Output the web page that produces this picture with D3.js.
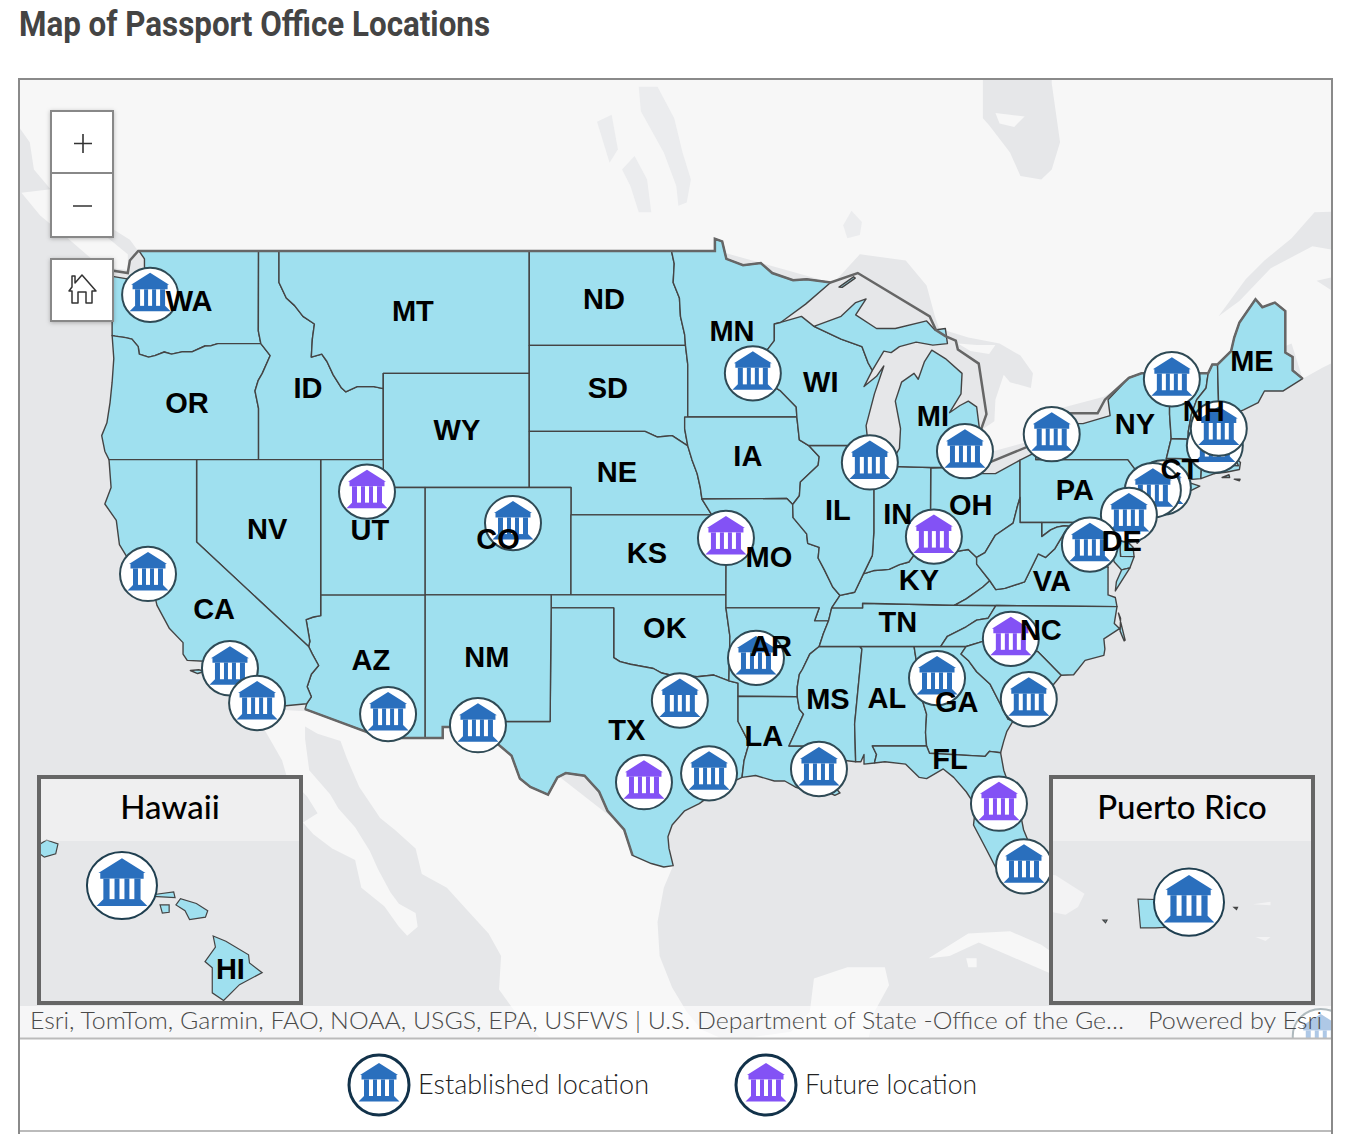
<!DOCTYPE html>
<html>
<head>
<meta charset="utf-8">
<script src="https://cdn.jsdelivr.net/npm/d3@7"></script>
<style>
html, body { margin: 0; padding: 0; background: #fff; }
svg { display: block; }
</style>
</head>
<body>
<svg id="vis" width="1354" height="1134"></svg>
<script>
// state outlines, lon/lat
var columbia = [[-116.92,46],[-118.98,46],[-119.3,45.93],[-119.6,45.92],[-120.2,45.73],[-120.65,45.73],[-121.2,45.65],[-121.55,45.72],[-122,45.6],[-122.3,45.55],[-122.75,45.65],[-122.8,45.9],[-123.1,46.15],[-123.4,46.2],[-123.9,46.25],[-124.05,46.27]];
var snake = [[-117.03,42],[-117.03,43.8],[-117.2,44.4],[-117.05,44.75],[-116.85,45],[-116.47,45.6],[-116.92,46]];
var idMt = [[-116.05,49],[-116.05,48],[-115.7,47.5],[-115.3,47.25],[-114.9,46.9],[-114.35,46.65],[-114.45,46.15],[-114.5,45.55],[-114,45.65],[-113.75,45.4],[-113.45,44.95],[-113.05,44.5],[-112.85,44.37],[-112.3,44.55],[-111.5,44.55],[-111.05,44.48]];
var colorado = [[-114.05,36.2],[-114.4,36.15],[-114.75,36.05],[-114.57,35.2],[-114.63,35],[-114.45,34.7],[-114.15,34.25],[-114.5,33.9],[-114.7,33.4],[-114.5,33],[-114.72,32.72]];
var redRiver = [[-100,34.56],[-99.7,34.4],[-99.2,34.3],[-98.1,34.13],[-97.7,33.95],[-97.2,33.85],[-96.7,33.85],[-96,33.8],[-95.2,33.87],[-94.48,33.64]];
var ohioEast = [[-80.52,40.64],[-80.65,40.3],[-80.85,39.7],[-81.7,39.25],[-82.2,38.6],[-82.6,38.42]];
var ohioMid = [[-82.6,38.42],[-83,38.72],[-83.7,38.63],[-84.3,38.95],[-84.82,39.1]];
var ohioWest = [[-84.82,39.1],[-85.4,38.72],[-85.85,38.25],[-86.3,38.15],[-86.8,37.97],[-87.5,37.93],[-88.03,37.8]];
var missUpper = [[-91.42,40.38],[-91.4,39.9],[-90.75,39.3],[-90.7,38.95],[-90.15,38.8],[-90.2,38.4],[-89.9,37.95],[-89.5,37.3],[-89.15,36.98]];
var missLower = [[-89.7,36],[-89.95,35.5],[-90.15,35],[-90.6,34.7],[-90.95,34.1],[-91.1,33.9],[-91.2,33.4],[-91.2,33]];
var moRiver = [[-96.45,42.49],[-96.25,42],[-96,41.5],[-95.85,41],[-95.77,40.58],[-95.3,40]];
var gaSc = [[-83.1,35],[-83.35,34.7],[-83,34.45],[-82.6,34],[-81.95,33.5],[-81.4,32.6],[-81.1,32.1],[-80.85,32.03]];
var tnSouthEast = [[-81.68,36.59],[-82.05,36.1],[-82.6,36.03],[-83.1,35.77],[-84,35.4],[-84.32,35]];
var wvVa = [[-77.8,39.15],[-78.35,39.4],[-78.85,38.75],[-79.3,38.42],[-79.65,38.55],[-80.3,37.5],[-81.25,37.25],[-81.68,37.2],[-81.97,37.54]];
var potomac = [[-76.3,38.05],[-76.9,38.28],[-77.05,38.7],[-77.5,39.1],[-77.8,39.15]];

function rev(a) { return a.slice().reverse(); }

var shapeWA = [[[-122.76,49],[-117.03,49],[-117.04,46.42]].concat(columbia, [[-124.05,46.7],[-124.1,46.95],[-124.2,47.2],[-124.4,47.6],[-124.65,47.95],[-124.73,48.38],[-124.1,48.2],[-123.4,48.12],[-122.8,48.14],[-122.6,47.9],[-122.5,47.35],[-122.3,47.4],[-122.35,47.8],[-122.25,48.05],[-122.5,48.5],[-122.5,48.75]])];
var shapeOR = [columbia.concat([[-123.97,45.5],[-124.05,44.7],[-124.15,44],[-124.3,43.3],[-124.55,42.85],[-124.4,42.3],[-124.2,42]], snake)];
var shapeID = [[[-117.03,49]].concat(idMt, [[-111.05,42]], snake, [[-117.04,46.42]])];
var shapeMT = [[[-116.05,49],[-104.05,49],[-104.05,45],[-111.05,45]].concat(rev(idMt))];
var shapeWY = [[[-111.05,45],[-104.05,45],[-104.05,41],[-111.05,41]]];
var shapeND = [[[-104.05,49],[-97.23,49],[-97.1,48.6],[-97.15,48],[-96.85,47.5],[-96.8,46.9],[-96.6,46.3],[-96.56,45.94],[-104.05,45.94]]];
var shapeSD = [[[-104.05,45.94],[-96.56,45.94],[-96.45,45.3],[-96.45,43.5],[-96.6,43.1],[-96.45,42.49],[-97.2,42.85],[-97.9,42.8],[-98.5,43],[-104.05,43]]];
var shapeNE = [[[-104.05,43],[-98.5,43],[-97.9,42.8],[-97.2,42.85]].concat(moRiver, [[-102.05,40],[-102.05,41],[-104.05,41]])];
var shapeCO = [[[-109.05,41],[-102.05,41],[-102.05,37],[-109.05,37]]];
var shapeKS = [[[-102.05,40],[-95.3,40],[-94.9,39.8],[-95.1,39.55],[-94.61,39.1],[-94.62,37],[-102.05,37]]];
var shapeOK = [[[-103,37],[-94.62,37],[-94.62,36.5],[-94.43,35.4]].concat(rev(redRiver), [[-100,36.5],[-103,36.5]])];
var shapeTX = [[[-103,36.5],[-100,36.5]].concat(redRiver, [[-94.04,33.55],[-94.04,33.02],[-94.04,32],[-93.55,31.2],[-93.55,31],[-93.75,30.4],[-93.85,29.7],[-94.7,29.35],[-95.1,29.1],[-95.9,28.6],[-96.6,28.3],[-97.2,27.7],[-97.4,27.2],[-97.35,26.7],[-97.15,25.96],[-97.6,25.9],[-98.2,26.05],[-99.1,26.4],[-99.5,27.5],[-100.3,28.3],[-100.7,29.1],[-101.4,29.77],[-102.3,29.88],[-102.7,29.7],[-103.15,28.98],[-104,29.3],[-104.5,29.65],[-104.9,30.6],[-106,31.4],[-106.53,31.78],[-106.62,32],[-103.05,32]])];
var shapeNM = [[[-109.05,37],[-103,37],[-103,36.5],[-103.05,32],[-106.62,32],[-106.53,31.78],[-108.2,31.78],[-108.2,31.33],[-109.05,31.33]]];
var shapeAZ = [[[-114.05,37],[-109.05,37],[-109.05,31.33],[-111.07,31.33],[-114.8,32.5]].concat(rev(colorado))];
var shapeUT = [[[-114.05,42],[-111.05,42],[-111.05,41],[-109.05,41],[-109.05,37],[-114.05,37]]];
var shapeNV = [[[-120,42],[-114.05,42]].concat(colorado.slice(0,5), [[-120,39]])];
var shapeCA = [[[-124.2,42],[-120,42],[-120,39]].concat(colorado.slice(4), [[-117.12,32.53],[-117.25,32.85],[-117.5,33.35],[-118.1,33.75],[-118.4,33.75],[-118.5,34.03],[-119.2,34.15],[-119.6,34.42],[-120.45,34.45],[-120.65,34.7],[-120.65,35.15],[-121.3,35.7],[-121.9,36.6],[-122,36.95],[-122.45,37.5],[-122.5,37.8],[-123,38],[-123.7,38.9],[-123.85,39.8],[-124.4,40.4],[-124.1,41]]),
  [[-120.3,34.05],[-119.9,34.08],[-119.6,34.02],[-119.95,33.93]]];
var shapeMN = [[[-97.23,49],[-95.15,49],[-95.15,49.38],[-94.8,49.3],[-94.6,48.75],[-93.8,48.55],[-92.95,48.62],[-92.4,48.3],[-91.4,48.07],[-90.75,48.1],[-89.6,48],[-90.8,47.3],[-92,46.7],[-92.3,46.65],[-92.3,46.1],[-92.85,45.6],[-92.75,45.1],[-92.8,44.75],[-92,44.4],[-91.25,43.85],[-91.22,43.5],[-96.45,43.5],[-96.45,45.3],[-96.56,45.94],[-96.6,46.3],[-96.8,46.9],[-96.85,47.5],[-97.15,48],[-97.1,48.6]]];
var shapeIA = [[[-96.6,43.5],[-91.22,43.5],[-91.1,42.7],[-90.65,42.5],[-90.15,42.1],[-90.2,41.8],[-91.05,41.2],[-91.1,40.7],[-91.42,40.38],[-91.7,40.6],[-95.77,40.58],[-95.85,41],[-96,41.5],[-96.25,42],[-96.45,42.49],[-96.6,43.1]]];
var shapeMO = [[[-95.77,40.58],[-91.7,40.6]].concat(missUpper, [[-89.55,36.5],[-89.7,36],[-90.37,36],[-90.15,36.5],[-94.62,36.5],[-94.62,37],[-94.61,39.1],[-95.1,39.55],[-94.9,39.8],[-95.3,40]])];
var shapeAR = [[[-94.62,36.5],[-90.15,36.5],[-90.37,36]].concat(missLower, [[-94.04,33.02],[-94.04,33.55],[-94.48,33.64],[-94.43,35.4]])];
var shapeLA = [[[-94.04,33.02],[-91.2,33],[-91.1,32.5],[-90.9,32.3],[-91.6,31],[-89.75,31],[-89.8,30.65],[-89.6,30.2],[-89.4,30.05],[-89.4,29.8],[-89.6,29.5],[-89.15,29.05],[-89.4,28.95],[-90,29.2],[-90.6,29.1],[-91.3,29.3],[-91.8,29.55],[-92.3,29.55],[-93.2,29.78],[-93.85,29.7],[-93.75,30.4],[-93.55,31],[-93.55,31.2],[-94.04,32]]];
var shapeMS = [[[-90.15,35],[-88.2,35],[-88.1,34.9],[-88.45,31.9],[-88.4,30.35],[-88.9,30.4],[-89.6,30.2],[-89.8,30.65],[-89.75,31],[-91.6,31],[-90.9,32.3],[-91.1,32.5]].concat(rev(missLower.slice(3)))];
var shapeAL = [[[-88.2,35],[-85.6,35],[-85.2,32.85],[-85,32.3],[-85.05,31.55],[-85,31],[-87.6,31],[-87.4,30.65],[-87.5,30.3],[-88,30.25],[-88,30.65],[-88.15,30.35],[-88.4,30.35],[-88.45,31.9],[-88.1,34.9]]];
var shapeGA = [[[-85.6,35]].concat(gaSc, [[-81.15,31.6],[-81.3,31.2],[-81.45,30.72],[-81.98,30.78],[-82.2,30.57],[-84.86,30.7],[-85,31],[-85.05,31.55],[-85,32.3],[-85.2,32.85]])];
var shapeFL = [[[-87.6,31],[-85,31],[-84.86,30.7],[-82.2,30.57],[-81.98,30.78],[-81.45,30.72],[-81.3,30],[-80.9,29],[-80.55,28.4],[-80.35,27.5],[-80.03,26.8],[-80.1,25.8],[-80.4,25.2],[-81.1,25.15],[-81.7,25.9],[-82.1,26.6],[-82.75,27.7],[-82.65,28.5],[-83.1,29.1],[-83.7,29.7],[-84.2,30.05],[-85,29.65],[-85.35,29.7],[-86,30.25],[-87,30.35],[-87.5,30.3],[-87.4,30.65]]];
var shapeTN = [[[-90.15,35],[-89.95,35.5],[-89.7,36],[-89.55,36.5],[-88.07,36.5],[-88.07,36.68],[-83.67,36.6]].concat(tnSouthEast, [[-85.6,35],[-88.2,35]])];
var shapeKY = [[[-89.55,36.5],[-88.07,36.5],[-88.07,36.68],[-83.67,36.6],[-83.1,36.85],[-82.3,37.3],[-81.97,37.54],[-82.6,38.17]].concat(ohioMid, ohioWest, [[-88.45,37.1],[-89.15,36.98]])];
var shapeOH = [[[-84.8,41.7],[-83.45,41.73],[-82.7,41.5],[-81.7,41.5],[-80.52,41.98]].concat(ohioEast, ohioMid)];
var shapeIN = [[[-87.53,41.72],[-86.8,41.76],[-84.8,41.72]].concat(ohioWest, [[-87.6,38.5],[-87.53,39.35]])];
var shapeIL = [[[-90.65,42.5],[-87.8,42.5],[-87.55,41.9],[-87.53,41.72],[-87.53,39.35],[-87.6,38.5],[-88.03,37.8],[-88.45,37.1]].concat(rev(missUpper), [[-91.1,40.7],[-91.05,41.2],[-90.2,41.8],[-90.15,42.1]])];
var shapeWI = [[[-92.3,46.65],[-92,46.7],[-91,46.9],[-90.4,46.57],[-89.1,46.15],[-88.1,45.9],[-87.8,45.35],[-87.6,45.1],[-88,44.55],[-87.4,44.9],[-87.05,45.25],[-87.5,44.3],[-87.9,43.2],[-87.8,42.5],[-90.65,42.5],[-91.1,42.7],[-91.22,43.5],[-91.25,43.85],[-92,44.4],[-92.8,44.75],[-92.75,45.1],[-92.85,45.6],[-92.3,46.1]]];
var shapeMI = [[[-86.8,41.76],[-84.8,41.72],[-83.45,41.73],[-83.15,42.05],[-83.1,42.3],[-82.5,42.6],[-82.45,43],[-82.6,43.85],[-83,44.05],[-83.4,43.9],[-83.9,43.65],[-83.35,44.3],[-83.3,45],[-84.1,45.5],[-84.75,45.78],[-85.1,45.4],[-85.4,44.8],[-85.6,45],[-86.2,44.7],[-86.5,44.05],[-86.25,43.1],[-86.3,42.4]],
  [[-90.4,46.57],[-89.1,46.9],[-88.4,47.35],[-87.9,47.47],[-88.4,46.95],[-87.4,46.5],[-86.5,46.5],[-85,46.75],[-84.6,46.45],[-84.1,46.5],[-84,46],[-84.7,45.95],[-85.5,46.05],[-86.3,45.9],[-86.7,45.7],[-87.05,45.75],[-87.6,45.1],[-87.8,45.35],[-88.1,45.9],[-89.1,46.15]],
  [[-89.2,47.85],[-88.5,48.18],[-88.42,48.14],[-89.05,47.84]]];
var shapePA = [[[-80.52,41.98],[-79.76,42.27],[-79.76,42],[-75.35,42],[-75.1,41.75],[-74.7,41.36],[-75.1,41],[-75.15,40.65],[-74.75,40.2],[-75.4,39.8],[-75.8,39.72],[-80.52,39.72]]];
var shapeNY = [[[-79.76,42.27],[-79.05,42.7],[-78.9,42.9],[-79.05,43.27],[-77.5,43.27],[-76.2,43.55],[-76.3,44.1],[-75.3,44.85],[-74.7,45],[-73.35,45],[-73.35,43.6],[-73.27,42.75],[-73.5,42.05],[-73.5,41.3],[-73.65,41],[-73.9,40.8],[-74,40.7],[-74.05,41],[-74.7,41.36],[-75.1,41.75],[-75.35,42],[-79.76,42]],
  [[-74,40.6],[-73.75,40.85],[-72.7,40.98],[-72.3,41.15],[-71.9,41.05],[-72.5,40.82],[-73.5,40.6]]];
var shapeNJ = [[[-74.7,41.36],[-74.05,41],[-74,40.7],[-74.25,40.48],[-74,40.45],[-74.1,39.75],[-74.4,39.4],[-74.9,38.95],[-75.15,39.2],[-75.5,39.5],[-75.4,39.8],[-74.75,40.2],[-75.15,40.65],[-75.1,41]]];
var shapeDE = [[[-75.8,39.72],[-75.4,39.8],[-75.6,39.45],[-75.35,39],[-75.1,38.8],[-75.05,38.45],[-75.7,38.46]]];
var shapeMD = [[[-79.48,39.72],[-75.8,39.72],[-75.7,38.46],[-75.05,38.45],[-75.25,38.03],[-75.65,37.95],[-76,38.25],[-76.3,38.9],[-76.05,39.4],[-76.45,39.2],[-76.45,38.4]].concat(potomac, [[-77.72,39.32],[-77.8,39.55],[-78.4,39.6],[-78.75,39.55],[-79.05,39.45],[-79.48,39.2]])];
var shapeVA = [[[-83.67,36.6],[-81.68,36.59],[-75.87,36.55],[-75.95,36.9],[-76.3,37],[-76.3,37.6]].concat(potomac, wvVa, [[-82.3,37.3],[-83.1,36.85]]),
  [[-75.65,37.95],[-75.25,38.03],[-75.95,37.15],[-75.9,37.5]]];
var shapeWV = [[[-80.52,40.64],[-80.52,39.72],[-79.48,39.72],[-79.48,39.2],[-79.05,39.45],[-78.75,39.55],[-78.4,39.6],[-77.8,39.55],[-77.72,39.32]].concat(wvVa, [[-82.6,38.17]], rev(ohioEast))];
var shapeNC = [[[-84.32,35]].concat(rev(tnSouthEast).slice(1), [[-75.87,36.55],[-76,35.9],[-75.75,35.7],[-76.5,35.3],[-76.45,34.9],[-76.5,34.65],[-77.4,34.45],[-77.95,33.88],[-78.55,33.86],[-79.67,34.8],[-80.8,34.82],[-80.93,35.1],[-81.05,35.15],[-82.3,35.2],[-83.1,35]]),
  [[-75.8,36.3],[-75.48,35.25],[-75.53,35.22],[-75.72,35.6],[-75.7,36.1]]];
var shapeSC = [[[-83.1,35],[-82.3,35.2],[-81.05,35.15],[-80.93,35.1],[-80.8,34.82],[-79.67,34.8],[-78.55,33.86],[-79.2,33.2],[-79.9,32.7]].concat(rev(gaSc))];
var shapeCT = [[[-73.5,42.05],[-71.8,42.02],[-71.85,41.32],[-72.9,41.25],[-73.65,41],[-73.5,41.3]]];
var shapeRI = [[[-71.8,42.02],[-71.38,42.02],[-71.2,41.5],[-71.85,41.32]]];
var shapeMA = [[[-73.27,42.75],[-72.46,42.73],[-71.3,42.7],[-70.85,42.87],[-70.6,42.65],[-71,42.3],[-70.6,41.95],[-70.55,41.8],[-70.05,41.78],[-70.2,42.08],[-69.95,41.9],[-70,41.65],[-70.65,41.55],[-71.2,41.5],[-71.38,42.02],[-71.8,42.02],[-73.5,42.05]],
  [[-70.83,41.36],[-70.5,41.46],[-70.47,41.36]],[[-70.25,41.3],[-69.97,41.3],[-70,41.24]]];
var shapeVT = [[[-73.35,45],[-71.5,45],[-71.6,44.5],[-72.05,44.1],[-72.3,43.6],[-72.45,43],[-72.46,42.73],[-73.27,42.75],[-73.35,43.6]]];
var shapeNH = [[[-71.5,45],[-71.3,45.3],[-71.05,45.3],[-70.98,43.4],[-70.7,43.07],[-70.85,42.87],[-71.3,42.7],[-72.46,42.73],[-72.45,43],[-72.3,43.6],[-72.05,44.1],[-71.6,44.5]]];
var shapeME = [[[-71.05,45.3],[-70.4,45.75],[-70.25,46.2],[-70,46.7],[-69.23,47.46],[-68.9,47.2],[-68.3,47.35],[-67.8,47.07],[-67.8,45.7],[-67.45,45.55],[-67.45,45.1],[-66.97,44.82],[-67.9,44.4],[-68.8,44.4],[-69.1,44],[-69.8,43.75],[-70.3,43.6],[-70.7,43.07],[-70.98,43.4]]];

var stateShapes = [shapeWA,shapeOR,shapeID,shapeMT,shapeWY,shapeND,shapeSD,shapeNE,shapeCO,shapeKS,shapeOK,shapeTX,shapeNM,shapeAZ,shapeUT,shapeNV,shapeCA,shapeMN,shapeIA,shapeMO,shapeAR,shapeLA,shapeMS,shapeAL,shapeGA,shapeFL,shapeTN,shapeKY,shapeOH,shapeIN,shapeIL,shapeWI,shapeMI,shapePA,shapeNY,shapeNJ,shapeDE,shapeMD,shapeVA,shapeWV,shapeNC,shapeSC,shapeCT,shapeRI,shapeMA,shapeVT,shapeNH,shapeME];

// international boundary, the thick grey line
var borderNorth = [[-125.2,48.5],[-123.3,48.3],[-123.2,48.7],[-122.8,49],[-95.15,49],[-95.15,49.38],[-94.8,49.3],[-94.6,48.75],[-93.8,48.55],[-92.95,48.62],[-92.4,48.3],[-91.4,48.07],[-90.75,48.1],[-89.6,48],[-88.3,48.3],[-84.85,46.9],[-84.55,46.45],[-84.1,46.25],[-83.6,46.1],[-83.5,45.8],[-82.5,45.33],[-82.13,43.6],[-82.42,43],[-82.5,42.6],[-83.1,42.25],[-83.1,42],[-82.7,41.68],[-78.93,42.83],[-79.05,43.27],[-79.2,43.45],[-78.7,43.63],[-76.8,43.63],[-76.45,44.1],[-75.3,44.85],[-74.7,45],[-71.5,45],[-71.3,45.3],[-71.05,45.3],[-70.4,45.75],[-70.25,46.2],[-70,46.7],[-69.23,47.46],[-68.9,47.2],[-68.3,47.35],[-67.8,47.07],[-67.8,45.7],[-67.45,45.55],[-67.45,45.1],[-66.97,44.82]];
var borderSouth = [[-114.8,32.5],[-111.07,31.33],[-108.2,31.33],[-108.2,31.78],[-106.53,31.78],[-106,31.4],[-104.9,30.6],[-104.5,29.65],[-104,29.3],[-103.15,28.98],[-102.7,29.7],[-102.3,29.88],[-101.4,29.77],[-100.7,29.1],[-100.3,28.3],[-99.5,27.5],[-99.1,26.4]];

// basemap land and lakes
var landCanada = [[-122.8,49],[-123.2,49.35],[-124.8,50],[-125.3,50.4],[-127,50.9],[-127.8,51.5],[-128,52.3],[-130,54],[-130,55],[-64,55],[-64,50.25],[-66.4,50.2],[-67.5,49.4],[-68.8,48.7],[-69.7,48.1],[-71,46.9],[-70,47.4],[-68.5,48.45],[-66.5,49.15],[-64.3,48.9],[-65,48.25],[-66.3,48.05],[-65,47.5],[-64,46],[-64.8,45.6],[-66,45.2],[-66.97,44.82],[-67.5,46],[-71,45],[-74.7,45],[-76.5,44.2],[-79.4,43.65],[-79.8,43.3],[-79.05,43.25],[-79,42.87],[-80.4,42.58],[-81.8,42.3],[-82.5,41.95],[-83.1,42.2],[-82.5,42.6],[-82.45,43],[-81.75,43.35],[-81.7,44.1],[-81.3,44.95],[-81,44.7],[-80,44.5],[-79.9,45],[-80.5,45.6],[-81.5,46],[-83,46.2],[-84.4,46.5],[-84.6,46.9],[-85,47.9],[-86,48.7],[-88.2,48.9],[-89.3,48.1],[-89.6,48],[-95,49]];
var landManitoulin = [[-83.5,46],[-82.6,45.95],[-81.7,45.95],[-82,45.65],[-82.9,45.75]];
var landVancouver = [[-128.4,50.8],[-127,50.9],[-125.5,50.3],[-124.8,49.7],[-123.3,48.9],[-123.3,48.4],[-124.6,48.5],[-126,49.3],[-127.5,50.1]];
var landMexico = [[-117.12,32.53],[-116.7,31.6],[-115.9,30.4],[-115.7,29.8],[-114.7,28.9],[-114.2,28.2],[-114.9,27.8],[-114.4,27.3],[-113.5,26.7],[-112.4,26.2],[-112.1,25],[-111,24.2],[-110.3,23.3],[-109.9,22.9],[-109.4,23.3],[-109.5,23.9],[-110.3,24.3],[-110.7,24.8],[-111.3,25.8],[-111.7,26.6],[-112.4,27.6],[-113.2,28.4],[-113.6,29],[-114.6,30],[-114.8,31.3],[-114.8,31.8],[-114.2,31.5],[-113.1,31.2],[-112.8,30.5],[-112.2,29.3],[-111.2,28],[-110.5,27.5],[-109.5,26.7],[-109.2,25.6],[-108,25],[-107,24],[-106,23],[-105.4,22],[-105.5,20.5],[-104.5,19.2],[-103.5,18.3],[-102,17.9],[-100,17],[-100,16],[-87.5,16],[-87.8,18.2],[-87.5,19.5],[-86.8,20.7],[-87,21.5],[-88.8,21.5],[-90.4,21],[-90.6,19.5],[-91.5,18.6],[-93,18.4],[-94.5,18.15],[-95.8,18.7],[-96.5,19.5],[-97.2,20.6],[-97.8,22],[-97.9,23.5],[-97.6,25],[-97.15,25.96],[-106,32]];
var landCuba = [[-84.9,21.9],[-83,23],[-81,23.1],[-79.5,22.5],[-77.5,21.2],[-75,20.7],[-74.2,20.2],[-77.5,19.9],[-77.1,20.5],[-78.5,21],[-81,22],[-82.5,22.6],[-83.9,22]];
var landJuventud = [[-83.1,21.9],[-82.6,21.9],[-82.6,21.5],[-83,21.5]];
var landShapes = [landCanada, landManitoulin, landVancouver, landMexico, landCuba, landJuventud];
var lakeJames = [[-82.3,55],[-82.3,53],[-82,52.8],[-81,52],[-80.5,51.3],[-79.5,51.2],[-79,51.5],[-78.6,52.3],[-79,54],[-79,55]];
var lakeWinnipeg = [[-98.8,53.9],[-97.9,53.9],[-97.1,53],[-96.7,52],[-96.3,51.2],[-96.5,50.5],[-96.9,50.4],[-97,51],[-97.6,52],[-98.7,53.2]];
var lakeManitoba = [[-99,51.9],[-98.4,51.2],[-98.2,50.2],[-98.8,50.2],[-99.2,51],[-99.6,51.5]];
var lakeWinnipegosis = [[-100.8,52.9],[-100.1,53.1],[-99.8,52.1],[-100.2,51.7]];
var lakeNipigon = [[-88.6,50.25],[-88.1,49.9],[-88.2,49.5],[-88.8,49.4],[-89,49.8]];
var lakeShapes = [lakeWinnipeg, lakeManitoba, lakeWinnipegosis, lakeNipigon];
var islandAkimiski = [[-81.7,53.15],[-80.3,53.05],[-80.8,52.75],[-81.5,52.85]];

// state labels
var labelCodes = ["WA","MT","ND","MN","ME","OR","ID","SD","WI","MI","NY","NH","WY","IA","NE","PA","OH","CT","IL","IN","NV","UT","CO","KS","MO","DE","KY","VA","CA","TN","OK","NC","AR","NM","AZ","MS","AL","GA","TX","LA","FL"];
var labelLon = [-120.36,-109.63,-100.47,-94.33,-69.4,-120.46,-114.66,-100.28,-90.07,-84.7,-75.01,-71.71,-107.52,-93.57,-99.85,-77.89,-82.88,-72.86,-89.25,-86.38,-116.62,-111.69,-105.55,-98.41,-92.56,-75.64,-85.37,-78.99,-119.16,-86.38,-97.55,-79.52,-92.46,-106.08,-111.64,-89.73,-86.9,-83.55,-99.37,-92.8,-83.88];
var labelLat = [47.37,47.04,47.43,46.39,45.39,43.94,44.47,44.44,44.65,43.49,43.2,43.66,43,42.08,41.51,40.88,40.32,41.62,40.14,40,39.43,39.39,39.05,38.52,38.37,38.97,37.52,37.49,36.39,35.9,35.68,35.6,34.96,34.55,34.43,32.85,32.89,32.73,31.59,31.35,30.4];

// passport offices
var officeLon = [-122.23,-93.33,-73.24,-79,-83.16,-87.72,-71.18,-70.99,-73.67,-74.15,-75.3,-77.17,-111.83,-104.83,-94.62,-84.65,-122.33,-118.4,-117.1,-110.82,-106.51,-93.18,-96.83,-98.55,-95.43,-90.16,-84.5,-80.96,-80.1,-81.53,-80.33,-66.1];
var officeLat = [47.6,45,44.8,42.9,42.3,41.9,42.5,43.1,41,40.9,40,38.9,40.85,39.7,39.15,39.2,37.8,34.14,32.75,32.3,31.85,34.55,32.85,29.5,29.87,30.05,33.75,35.3,32.9,28.6,25.93,18.4];
var officeKind = ["e","e","e","e","e","e","e","e","e","e","e","e","f","e","f","f","e","e","e","e","e","e","e","f","e","e","e","f","e","f","e","e"];

// Hawaii and Puerto Rico insets
var hawaiiShapes = [
  [[-155.88,20.26],[-155.6,20.15],[-155.1,19.87],[-155.08,19.7],[-154.8,19.5],[-155.3,19.25],[-155.65,18.92],[-155.9,19.08],[-155.9,19.6],[-156.06,19.73],[-155.83,20.03]],
  [[-156.7,20.9],[-156.6,21.03],[-156.25,20.93],[-156,20.78],[-156.05,20.65],[-156.4,20.6],[-156.5,20.78]],
  [[-157.3,21.1],[-156.75,21.17],[-156.72,21.05],[-157.3,21.08]],
  [[-157.05,20.9],[-156.85,20.9],[-156.85,20.75],[-157,20.73]],
  [[-158.28,21.57],[-157.97,21.7],[-157.65,21.3],[-158.1,21.3]],
  [[-159.78,22.1],[-159.55,22.23],[-159.3,22.15],[-159.35,21.95],[-159.6,21.88],[-159.78,22]]
];
var puertoRicoShapes = [
  [[-67.25,18.5],[-66.1,18.47],[-65.63,18.38],[-65.6,18.22],[-65.85,18],[-66.9,17.95],[-67.2,17.95]],
  [[-65.33,18.34],[-65.26,18.34],[-65.28,18.3]],
  [[-67.95,18.1],[-67.87,18.1],[-67.9,18.05]]
];
var puertoRicoLand = [
  [[-69.5,19],[-68.9,18.95],[-68.32,18.6],[-68.45,18.35],[-68.7,18.2],[-69.5,18.35]],
  [[-64.95,18.4],[-64.6,18.45],[-64.6,18.38]],
  [[-64.9,17.78],[-64.6,17.78],[-64.7,17.7]]
];
var hawaiiOffice = [-157.89, 21.3];
var puertoRicoOffice = [-66.23, 18.44];
var hawaiiLabel = [-155.5, 19.55];

var legendLabels = ["Established location", "Future location"];
var legendKinds = ["e", "f"];
var insetTitles = ["Hawaii", "Puerto Rico"];
var title = "Map of Passport Office Locations";
var attribution = "Esri, TomTom, Garmin, FAO, NOAA, USGS, EPA, USFWS | U.S. Department of State -Office of the Ge…";
var poweredBy = "Powered by Esri";

var kindColor = {e: "#2a6fbd", f: "#8352f5"};
var waterColor = "#e6e7e9", landColor = "#f7f7f7", lakeColor = "#ebecee", stateColor = "#9fe0ef", lineColor = "#444";

var svg = d3.select("#vis");
var defs = svg.append("defs");
defs.append("clipPath").attr("id", "mapClip").append("rect")
    .attr("x", 20).attr("y", 80).attr("width", 1311).attr("height", 958);
defs.append("clipPath").attr("id", "hiClip").append("rect")
    .attr("x", 41).attr("y", 779).attr("width", 258).attr("height", 222);
defs.append("clipPath").attr("id", "prClip").append("rect")
    .attr("x", 1053).attr("y", 779).attr("width", 258).attr("height", 222);
var shadow = defs.append("filter").attr("id", "btnShadow")
    .attr("x", "-20%").attr("y", "-20%").attr("width", "140%").attr("height", "140%");
shadow.append("feDropShadow").attr("dx", 0).attr("dy", 1).attr("stdDeviation", 2)
    .attr("flood-color", "#000").attr("flood-opacity", 0.25);

var projection = d3.geoMercator().scale(1195).translate([2699.4, 1426.6]);
var projHawaii = d3.geoMercator().scale(2600).center([-156.06, 18.91]).translate([205, 1001]);
var projPuertoRico = d3.geoMercator().scale(2865).center([-67.27, 17.93]).translate([1137, 929]);

function ringPath(proj) {
    var line = d3.line()
        .x(function(d) { return proj(d)[0]; })
        .y(function(d) { return proj(d)[1]; })
        .curve(d3.curveLinearClosed);
    return function(rings) { return rings.map(function(r) { return line(r); }).join(" "); };
}
var mapPath = ringPath(projection);
var openLine = d3.line()
    .x(function(d) { return projection(d)[0]; })
    .y(function(d) { return projection(d)[1]; });

// title
svg.append("text").attr("x", 19).attr("y", 36)
    .attr("textLength", 471).attr("lengthAdjust", "spacingAndGlyphs")
    .style("font", "700 35px Roboto, sans-serif").style("fill", "#444")
    .text(title);

// main map
var map = svg.append("g").attr("clip-path", "url(#mapClip)");
map.append("rect").attr("x", 20).attr("y", 80).attr("width", 1311).attr("height", 958).attr("fill", waterColor);
map.selectAll("path.land").data(landShapes).enter().append("path").attr("class", "land")
    .attr("d", function(d) { return mapPath([d]); }).attr("fill", landColor);
map.append("path").attr("d", mapPath([lakeJames])).attr("fill", waterColor);
map.selectAll("path.lake").data(lakeShapes).enter().append("path").attr("class", "lake")
    .attr("d", function(d) { return mapPath([d]); }).attr("fill", lakeColor);
map.append("path").attr("d", mapPath([islandAkimiski])).attr("fill", landColor);
map.selectAll("path.state").data(stateShapes).enter().append("path").attr("class", "state")
    .attr("d", mapPath).attr("fill", stateColor).attr("stroke", lineColor)
    .attr("stroke-width", 1.4).attr("stroke-linejoin", "round");
map.selectAll("path.border").data([borderNorth, borderSouth]).enter().append("path").attr("class", "border")
    .attr("d", openLine).attr("fill", "none").attr("stroke", "#666").attr("stroke-width", 2.5);

// bank building marker
function drawMarker(g, kind, r, s, stroke, sw, squash) {
    var c = kindColor[kind];
    g.append("ellipse").attr("rx", r).attr("ry", r * squash).attr("fill", "#fff").attr("stroke", stroke).attr("stroke-width", sw);
    var b = g.append("g").attr("transform", "scale(" + s + ")").attr("fill", c);
    b.append("path").attr("d", "M0 -22 L19 -10 L17.5 -10 L17.5 -5.5 L-17.5 -5.5 L-17.5 -10 L-19 -10 Z");
    b.append("path").attr("d", "M-15 -5.5 H15 V11 L20.5 16.5 H-20.5 L-15 11 Z");
    b.selectAll("rect").data([-8, 0, 8]).enter().append("rect")
        .attr("x", function(d) { return d - 2; }).attr("y", -5.5).attr("width", 4).attr("height", 16.5)
        .attr("fill", "#fff");
}

officeLon.forEach(function(lon, i) {
    var p = projection([lon, officeLat[i]]);
    drawMarker(map.append("g").attr("transform", "translate(" + p + ")"), officeKind[i], 28, 1, "#2f4a55", 2, 0.97);
});

var labelStyle = "700 29px 'Liberation Sans', Arial, sans-serif";
map.selectAll("text.state").data(labelCodes).enter().append("text").attr("class", "state")
    .attr("x", function(d, i) { return projection([labelLon[i], labelLat[i]])[0]; })
    .attr("y", function(d, i) { return projection([labelLon[i], labelLat[i]])[1]; })
    .attr("dy", "0.3em").attr("text-anchor", "middle")
    .style("font", labelStyle).style("fill", "#000")
    .text(function(d) { return d; });

// insets
function drawInset(x, clip, titleText) {
    var g = svg.append("g");
    g.append("rect").attr("x", x).attr("y", 777).attr("width", 262).attr("height", 226).attr("fill", waterColor);
    var inner = g.append("g").attr("clip-path", "url(#" + clip + ")");
    return {g: g, inner: inner, x: x, title: titleText};
}
function finishInset(o) {
    o.g.append("rect").attr("x", o.x + 2).attr("y", 779).attr("width", 258).attr("height", 62).attr("fill", "#fff").attr("fill-opacity", 0.35);
    o.g.append("rect").attr("x", o.x).attr("y", 777).attr("width", 262).attr("height", 226)
        .attr("fill", "none").attr("stroke", "#666").attr("stroke-width", 4);
    o.g.append("text").attr("x", o.x + 131).attr("y", 819).attr("text-anchor", "middle")
        .style("font", "500 33px Lato, sans-serif").style("fill", "#000").text(o.title);
}

var hiInset = drawInset(39, "hiClip", insetTitles[0]);
var hiPath = ringPath(projHawaii);
hiInset.inner.selectAll("path").data(hawaiiShapes).enter().append("path")
    .attr("d", function(d) { return hiPath([d]); }).attr("fill", stateColor)
    .attr("stroke", lineColor).attr("stroke-width", 1.2);
finishInset(hiInset);
drawMarker(hiInset.g.append("g").attr("transform", "translate(" + projHawaii(hawaiiOffice) + ")"), "e", 35, 1.24, "#1f3f50", 2, 0.96);
hiInset.g.append("text").attr("x", projHawaii(hawaiiLabel)[0]).attr("y", projHawaii(hawaiiLabel)[1])
    .attr("dy", "0.3em").attr("text-anchor", "middle").style("font", labelStyle).text("HI");

var prInset = drawInset(1051, "prClip", insetTitles[1]);
var prPath = ringPath(projPuertoRico);
prInset.inner.selectAll("path.land").data(puertoRicoLand).enter().append("path").attr("class", "land")
    .attr("d", function(d) { return prPath([d]); }).attr("fill", "#f3f3f4");
prInset.inner.selectAll("path.pr").data(puertoRicoShapes).enter().append("path").attr("class", "pr")
    .attr("d", function(d) { return prPath([d]); }).attr("fill", stateColor)
    .attr("stroke", lineColor).attr("stroke-width", 1.2);
finishInset(prInset);
drawMarker(prInset.g.append("g").attr("transform", "translate(" + projPuertoRico(puertoRicoOffice) + ")"), "e", 35, 1.24, "#1f3f50", 2, 0.96);

// attribution bar
svg.append("rect").attr("x", 20).attr("y", 1006).attr("width", 1311).attr("height", 32)
    .attr("fill", "#fff").attr("fill-opacity", 0.62);
var attrStyle = "300 24px Lato, sans-serif";
svg.append("text").attr("x", 30).attr("y", 1029).attr("textLength", 1094).attr("lengthAdjust", "spacingAndGlyphs")
    .style("font", attrStyle).style("fill", "#4a4a4a").text(attribution);
svg.append("text").attr("x", 1148).attr("y", 1029).attr("textLength", 174).attr("lengthAdjust", "spacingAndGlyphs")
    .style("font", attrStyle).style("fill", "#4a4a4a").text(poweredBy);

// frame and legend panel
svg.append("path").attr("d", "M19 1134 V79 H1332 V1134").attr("fill", "none").attr("stroke", "#8a8a8a").attr("stroke-width", 2);
svg.append("line").attr("x1", 20).attr("x2", 1331).attr("y1", 1038.5).attr("y2", 1038.5).attr("stroke", "#bbb").attr("stroke-width", 2);
svg.append("line").attr("x1", 20).attr("x2", 1331).attr("y1", 1131).attr("y2", 1131).attr("stroke", "#bbb").attr("stroke-width", 2);

var legendX = [379, 766], legendW = [231, 172];
legendLabels.forEach(function(label, i) {
    drawMarker(svg.append("g").attr("transform", "translate(" + legendX[i] + ",1085)"), legendKinds[i], 30, 1, "#12324a", 3, 1);
    svg.append("text").attr("x", legendX[i] + 39).attr("y", 1094)
        .attr("textLength", legendW[i]).attr("lengthAdjust", "spacingAndGlyphs")
        .style("font", "300 27px Lato, sans-serif").style("fill", "#222").text(label);
});

// zoom and home buttons
var ui = svg.append("g");
ui.append("rect").attr("x", 51).attr("y", 111).attr("width", 62).attr("height", 126)
    .attr("fill", "#fff").attr("stroke", "#888").attr("stroke-width", 2).attr("filter", "url(#btnShadow)");
ui.append("line").attr("x1", 51).attr("x2", 113).attr("y1", 173).attr("y2", 173).attr("stroke", "#888").attr("stroke-width", 2);
ui.append("rect").attr("x", 51).attr("y", 259).attr("width", 62).attr("height", 62)
    .attr("fill", "#fff").attr("stroke", "#888").attr("stroke-width", 2).attr("filter", "url(#btnShadow)");
ui.append("path").attr("d", "M74 143.5 H92 M83 134 V153 M73 206 H92").attr("stroke", "#333").attr("stroke-width", 1.6).attr("fill", "none");
ui.append("path").attr("d", "M69 291 L72 287 V276 H75 V283 L82 275 L96 291 H92 V303 H86 V292 H78 V303 H72 V291 Z")
    .attr("stroke", "#333").attr("stroke-width", 1.5).attr("fill", "none").attr("stroke-linejoin", "round");
</script>
</body>
</html>
